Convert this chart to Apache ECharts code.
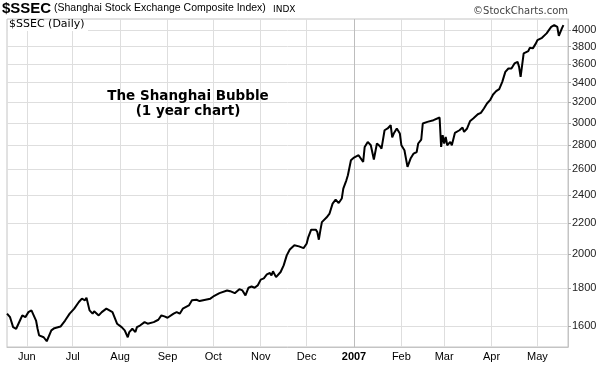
<!DOCTYPE html>
<html><head><meta charset="utf-8">
<script src="https://cdn.jsdelivr.net/npm/echarts@6/dist/echarts.min.js"></script>
<style>html,body{margin:0;padding:0;background:#fff}#c{width:611px;height:365px}</style>
</head><body><div id="c"></div>
<script>
const dates = [
'2006-05-19','2006-05-21','2006-05-23','2006-05-25','2006-05-26','2006-05-28','2006-05-29','2006-05-31',
'2006-06-02','2006-06-04','2006-06-05','2006-06-07','2006-06-08','2006-06-09','2006-06-12','2006-06-14','2006-06-15','2006-06-17','2006-06-19','2006-06-23','2006-06-26','2006-06-29',
'2006-07-02','2006-07-05','2006-07-07','2006-07-09','2006-07-10','2006-07-12','2006-07-14','2006-07-15','2006-07-18','2006-07-20','2006-07-23','2006-07-27','2006-07-30',
'2006-08-02','2006-08-04','2006-08-06','2006-08-07','2006-08-09','2006-08-11','2006-08-12','2006-08-14','2006-08-15','2006-08-17','2006-08-19','2006-08-23','2006-08-26','2006-08-28','2006-08-30',
'2006-09-01','2006-09-05','2006-09-07','2006-09-09','2006-09-11','2006-09-15','2006-09-17','2006-09-20','2006-09-22','2006-09-29',
'2006-10-01','2006-10-05','2006-10-10','2006-10-12','2006-10-15','2006-10-18','2006-10-20','2006-10-22','2006-10-24','2006-10-26','2006-10-28','2006-10-30',
'2006-11-01','2006-11-03','2006-11-05','2006-11-07','2006-11-08','2006-11-09','2006-11-11','2006-11-14','2006-11-16','2006-11-18','2006-11-20','2006-11-23','2006-11-26','2006-11-29',
'2006-12-01','2006-12-02','2006-12-04','2006-12-05','2006-12-07','2006-12-08','2006-12-09','2006-12-10','2006-12-11','2006-12-14','2006-12-16','2006-12-18','2006-12-20','2006-12-22','2006-12-24','2006-12-25','2006-12-27','2006-12-28','2006-12-30',
'2007-01-01','2007-01-04','2007-01-05','2007-01-07','2007-01-08','2007-01-10','2007-01-12','2007-01-14','2007-01-16','2007-01-18','2007-01-19','2007-01-21','2007-01-23','2007-01-25','2007-01-26','2007-01-27','2007-01-29','2007-01-31',
'2007-02-01','2007-02-03','2007-02-05','2007-02-07','2007-02-09','2007-02-11','2007-02-12','2007-02-14','2007-02-15','2007-02-18','2007-02-22','2007-02-26','2007-02-27','2007-02-28',
'2007-03-01','2007-03-02','2007-03-03','2007-03-05','2007-03-06','2007-03-08','2007-03-11','2007-03-13','2007-03-14','2007-03-16','2007-03-17','2007-03-18','2007-03-20','2007-03-23','2007-03-25','2007-03-27','2007-03-29','2007-03-31',
'2007-04-02','2007-04-04','2007-04-06','2007-04-08','2007-04-10','2007-04-12','2007-04-14','2007-04-16','2007-04-18','2007-04-19','2007-04-20','2007-04-21','2007-04-22','2007-04-25','2007-04-26','2007-04-28','2007-04-30',
'2007-05-01','2007-05-04','2007-05-07','2007-05-10','2007-05-12','2007-05-14','2007-05-15','2007-05-17','2007-05-18'
];
const closes = [
1663,1645,1595,1587,1595,1637,1654,1645,
1671,1680,1671,1628,1587,1555,1546,1527,1534,1579,1590,1598,1628,1663,
1689,1724,1742,1733,1747,1680,1663,1676,1654,1671,1689,1671,1612,
1595,1579,1546,1571,1587,1571,1595,1603,1595,1620,1612,1620,1632,1654,1649,
1642,1663,1671,1663,1689,1706,1733,1736,1729,1742,
1754,1772,1787,1783,1772,1794,1787,1760,1802,1809,1802,1815,
1848,1855,1878,1886,1872,1896,1862,1892,1931,1992,2028,2055,2048,2037,
2065,2104,2157,2170,2157,2141,2091,2152,2208,2239,2267,2338,2367,2342,2375,2449,2513,2552,2674,
2696,2716,2730,2660,2786,2830,2801,2680,2816,2792,2772,2934,2950,2980,2869,2904,2950,2904,
2801,2758,2619,2688,2730,2743,2816,2851,2996,3011,3027,3052,2786,2889,
2816,2874,2801,2830,2801,2910,2934,2959,2919,2950,2934,3020,3043,3083,3096,3138,3187,3220,
3277,3311,3332,3408,3515,3552,3552,3608,3626,3570,3461,3589,3721,3748,3787,3780,3839,
3878,3906,3960,4041,4063,4041,3930,4021,4063
];
const yTicks = [1600,1800,2000,2200,2400,2600,2800,3000,3200,3400,3600,3800,4000];
const xTickDates = ['2006-06-01','2006-07-01','2006-08-01','2006-09-01','2006-10-01','2006-11-01','2006-12-01','2007-01-01','2007-02-01','2007-03-01','2007-04-01','2007-05-01'];
const xTickLabels = ['Jun','Jul','Aug','Sep','Oct','Nov','Dec','2007','Feb','Mar','Apr','May'];
const yearLine = '2007-01-01';
const xStart = '2006-05-19', xEnd = '2007-05-21';
const yMin = 1500, yMax = 4140;

function ts(s){ const p = s.split('-').map(Number); return new Date(p[0], p[1]-1, p[2]).getTime(); }
const tickTs = xTickDates.map(ts);
const yTickLn = yTicks.map(v => Math.log(v));

const chart = echarts.init(document.getElementById('c'), null, {renderer:'canvas'});
const AR = '"Liberation Sans", Arial, sans-serif';
chart.setOption({
  animation:false,
  backgroundColor:'#fff',
  grid:{left:7, right:43, top:19, bottom:18, show:true, borderColor:'#c4c4c4', borderWidth:1},
  xAxis:{
    type:'value', min:ts(xStart), max:ts(xEnd),
    axisLine:{show:true, lineStyle:{color:'#c4c4c4'}},
    axisTick:{show:false, customValues:tickTs},
    splitLine:{show:true, lineStyle:{color:'#dedede', width:1}},
    axisLabel:{
      customValues:tickTs, margin:4, color:'#000', fontSize:11, fontFamily:AR,
      formatter:function(v){ const i = tickTs.indexOf(v); const l = i>=0 ? xTickLabels[i] : ''; return /^\d{4}$/.test(l) ? '{b|'+l+'}' : l; },
      rich:{b:{fontWeight:'bold', fontSize:11, fontFamily:AR, color:'#000'}}
    }
  },
  yAxis:{
    type:'value', position:'right', min:Math.log(yMin), max:Math.log(yMax),
    axisLine:{show:true, lineStyle:{color:'#c4c4c4'}},
    axisTick:{show:true, length:3, customValues:yTickLn, lineStyle:{color:'#aaa'}},
    splitLine:{show:true, lineStyle:{color:'#dedede', width:1}},
    axisLabel:{customValues:yTickLn, margin:4, color:'#222', fontSize:11, fontFamily:AR,
      formatter:function(v){ return String(Math.round(Math.exp(v))); }}
  },
  series:[
    {type:'line', data:[], z:1, silent:true,
     markLine:{silent:true, symbol:'none', label:{show:false},
       lineStyle:{color:'#bdbdbd', width:1, type:'solid'},
       data:[{xAxis:ts(yearLine)}]}},
    {type:'line', z:5, showSymbol:false, symbol:'none',
     lineStyle:{color:'#000', width:2}, itemStyle:{color:'#000'},
     data:dates.map((d,i)=>[ts(d), Math.log(closes[i])])}
  ],
  graphic:[
    {type:'text', left:2, top:1, z:100, style:{text:'$SSEC', font:'bold 15px "Liberation Sans", Arial', fill:'#000'}},
    {type:'text', left:54, top:3, z:100, style:{text:'(Shanghai Stock Exchange Composite Index)', font:'10.5px "Liberation Sans", Arial', fill:'#000'}},
    {type:'text', left:273, top:5, z:100, style:{text:'INDX', font:'9px "DejaVu Sans", sans-serif', fill:'#000'}},
    {type:'text', right:43, top:6, z:100, style:{text:'\u00A9StockCharts.com', font:'10px "DejaVu Sans", sans-serif', fill:'#444'}},
    {type:'rect', left:8, top:20, z:99, shape:{width:80, height:11}, style:{fill:'#fff'}},
    {type:'text', left:9, top:19, z:100, style:{text:'$SSEC (Daily)', font:'11px "DejaVu Sans", sans-serif', fill:'#000'}},
    {type:'text', x:188, y:96, z:100, style:{text:'The Shanghai Bubble', font:'bold 13.5px "DejaVu Sans", sans-serif', fill:'#000', align:'center', verticalAlign:'middle'}},
    {type:'text', x:188, y:111, z:100, style:{text:'(1 year chart)', font:'bold 13.5px "DejaVu Sans", sans-serif', fill:'#000', align:'center', verticalAlign:'middle'}}
  ]
});
</script></body></html>
